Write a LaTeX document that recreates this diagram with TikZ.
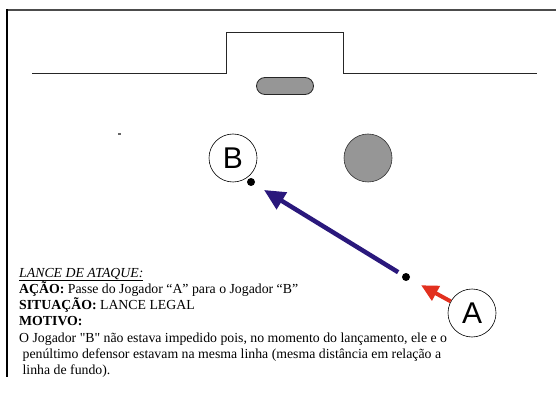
\documentclass[tikz,border=0pt]{standalone}
\usepackage{fontspec}
\setmainfont{Liberation Serif}
\newfontfamily\arialf{Liberation Sans}
\usetikzlibrary{arrows.meta}
\definecolor{passblue}{RGB}{42,24,124}
\definecolor{runred}{RGB}{226,48,30}
\definecolor{ballgray}{RGB}{150,150,150}
\begin{document}
\begin{tikzpicture}[x=1pt,y=-1pt,
  player/.style={circle,draw=black,line width=0.6pt,minimum size=48pt,inner sep=0pt,font=\arialf\fontsize{30}{30}\selectfont},
  defender/.style={circle,draw=black!80,line width=0.6pt,fill=ballgray,minimum size=48pt,inner sep=0pt},
  balldot/.style={circle,fill=black,minimum size=8pt,inner sep=0pt},
  pill/.style={rounded corners=8.5pt,draw=black!85,line width=0.8pt,fill=ballgray,minimum width=57pt,minimum height=17pt,inner sep=0pt},
  passarrow/.style={draw=passblue,line width=4.5pt,-{Triangle[length=21pt,width=19pt]}},
  runarrow/.style={draw=runred,line width=4pt,-{Triangle[length=17pt,width=16pt]}},
  txt/.style={anchor=base west,inner sep=0pt,font=\fontsize{13.8}{16}\selectfont}
]
\useasboundingbox (0,0) rectangle (556,403);
% frame
\draw[line width=2pt,draw=black!70] (7,10) -- (556,10);
\draw[line width=1.6pt,draw=black] (7,9) -- (7,377);
% goal line and area
\draw[line width=1pt,draw=black!85] (32,74) -- (226,74) -- (226,33) -- (343,33) -- (343,74) -- (537,74);
\node[pill] (ball) at (285,86) {};
% tiny speck
\fill[black!60] (118,133) rectangle (121,135);
% players
\node[player] (B) at (233,158) {B};
\node[defender] (D) at (368,158) {};
\node[player] (A) at (472,313) {A};
\node[balldot] (db) at (251,182) {};
\node[balldot] (da) at (406,277) {};
% arrows
\draw[passarrow,shorten <=5pt,shorten >=11pt] (da) -- (db);
\draw[runarrow,shorten >=13pt] (A) -- (da);
% text
\node[txt] (t1) at (19,277) {\textit{\underline{LANCE DE ATAQUE:}}};
\node[txt] (t2) at (19,293) {\textbf{AÇÃO:} Passe do Jogador “A” para o Jogador “B”};
\node[txt] (t3) at (19,309) {\textbf{SITUAÇÃO:} LANCE LEGAL};
\node[txt] (t4) at (19,325) {\textbf{MOTIVO:}};
\node[txt] (t5) at (19,342) {O Jogador \textquotedbl B\textquotedbl\ não estava impedido pois, no momento do lançamento, ele e o};
\node[txt] (t6) at (19,358) {\ penúltimo defensor estavam na mesma linha (mesma distância em relação a};
\node[txt] (t7) at (19,374) {\ linha de fundo).};
\end{tikzpicture}
\end{document}
